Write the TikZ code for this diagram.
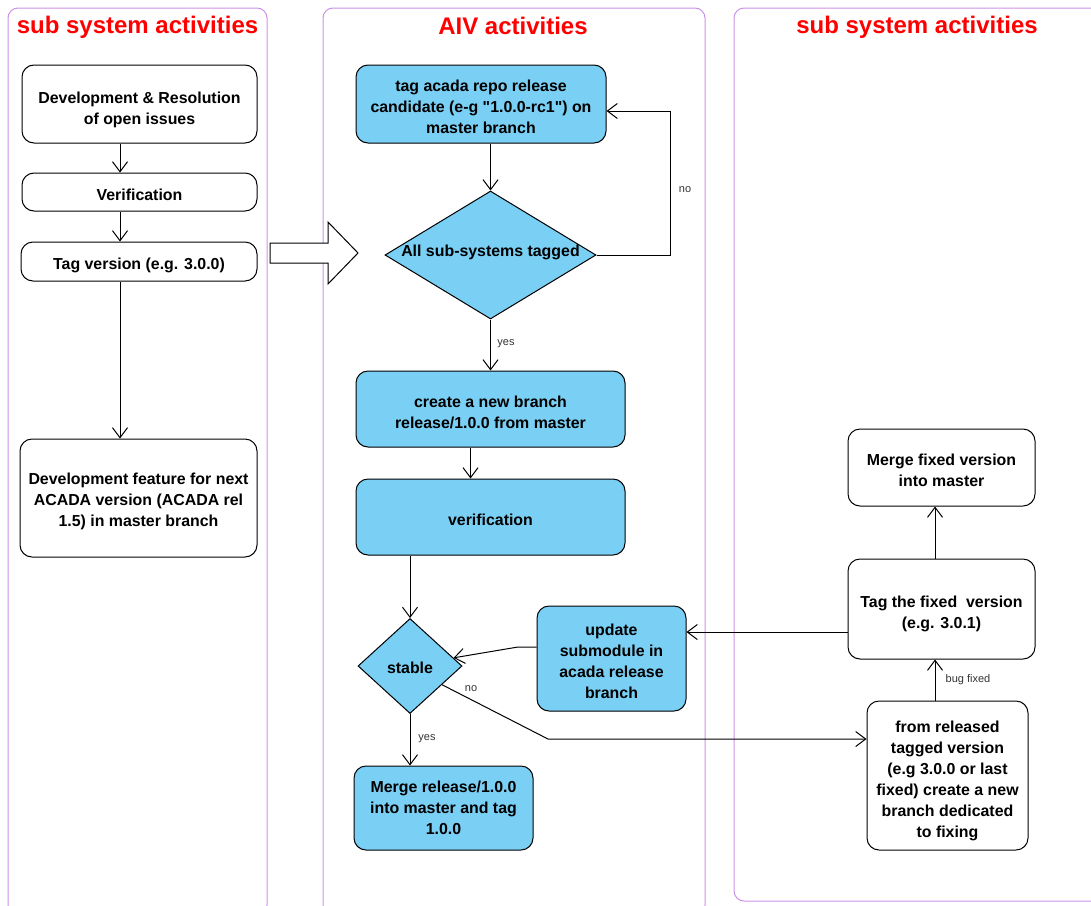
\documentclass[tikz,border=0pt]{standalone}
\usepackage{fontspec}
\setmainfont{Liberation Sans}
\newfontfamily\qfont{Liberation Sans}
\usetikzlibrary{arrows.meta,shapes.geometric,calc}
\definecolor{aivblue}{RGB}{122,207,244}
\definecolor{lanecol}{RGB}{204,144,230}
\definecolor{titlered}{RGB}{255,0,0}
\definecolor{lblgray}{RGB}{51,51,51}
\newcommand\tb[2][4pt]{\raisebox{-#1}[\height][\depth]{\begin{tabular}{@{}c@{}}#2\end{tabular}}}
\newcommand\sq{{\qfont"}}
\tikzset{
 box/.style={draw=black, line width=1pt, rounded corners=12pt, inner sep=0pt, text=black, font=\bfseries\fontsize{15.9}{21}\selectfont},
 wbox/.style={box, fill=white},
 bbox/.style={box, fill=aivblue},
 dia/.style={draw=black, line width=1pt, fill=aivblue, diamond, inner sep=0pt},
 diatext/.style={inner sep=0pt, text=black, font=\bfseries\fontsize{15.9}{21}\selectfont},
 lane/.style={draw=lanecol, line width=1pt, rounded corners=10pt},
 ttl/.style={text=titlered, inner sep=0pt, font=\bfseries\fontsize{24}{26}\selectfont},
 conn/.style={draw=black, line width=1pt, -{Straight Barb[length=10pt,width=15pt]}},
 lbl/.style={text=lblgray, font=\fontsize{11}{13}\selectfont, inner sep=0pt},
 bigarrow/.style={draw=black, line width=1pt, fill=white},
}
\begin{document}
\begin{tikzpicture}[x=1pt,y=-1pt]
\useasboundingbox (0,0) rectangle (1091,905);
\clip (0,0) rectangle (1091,905);
% lanes
\draw[lane] (8,8) rectangle (267,915);
\draw[lane] (323,8) rectangle (705,915);
\draw[lane] (734,8) rectangle (1101,901);
\node[ttl] (t1) at (137.5,27) {sub system activities};
\node[ttl] (t2) at (513,26) {AIV activities};
\node[ttl] (t3) at (917,27) {sub system activities};

% left lane
\node[wbox, minimum width=235, minimum height=78] (dev) at (139.5,104) {\tb[6pt]{Development \& Resolution\\of open issues}};
\node[wbox, minimum width=235, minimum height=38] (verif) at (139.5,192) {\tb{Verification}};
\node[wbox, minimum width=236, minimum height=39] (tagv) at (139,261.5) {\tb{Tag version (e.g. 3.0.0)}};
\node[wbox, minimum width=237, minimum height=118] (devfeat) at (138.5,498) {\tb[3pt]{Development feature for next\\ACADA version (ACADA rel\\1.5) in master branch}};

% AIV lane
\node[bbox, minimum width=250, minimum height=78] (tagrc) at (481,104) {\tb{tag acada repo release\\candidate (e-g \sq1.0.0-rc1\sq) on\\master branch}};
\node[dia, minimum width=211, minimum height=128] (allsub) at (490.5,255) {};
\node[diatext] (allsubtxt) at (490.5,252) {All sub-systems tagged};
\node[bbox, minimum width=269, minimum height=76] (newbr) at (490.5,409) {\tb[5pt]{create a new branch\\release/1.0.0 from master}};
\node[bbox, minimum width=269, minimum height=76] (verif2) at (490.5,517) {\tb{verification}};
\node[dia, minimum width=104, minimum height=95] (stable) at (410,666) {};
\node[diatext] (stabletxt) at (410,668) {stable};
\node[bbox, minimum width=149, minimum height=105] (update) at (611.5,658.5) {\tb{update\\submodule in\\acada release\\branch}};
\node[bbox, minimum width=179, minimum height=84] (merge) at (443.5,808) {\tb[1pt]{Merge release/1.0.0\\into master and tag\\1.0.0}};

% right lane
\node[wbox, minimum width=187, minimum height=77] (mergefix) at (941.5,467.5) {\tb{Merge fixed version\\into master}};
\node[wbox, minimum width=187, minimum height=100] (tagfix) at (941.5,609) {\tb[5pt]{Tag the fixed\ \ version\\(e.g. 3.0.1)}};
\node[wbox, minimum width=161, minimum height=149] (fromrel) at (947.5,775.5) {\tb[5pt]{from released\\tagged version\\(e.g 3.0.0 or last\\fixed) create a new\\branch dedicated\\to fixing}};

% big hollow arrow
\draw[bigarrow] (270,243) -- (328,243) -- (328,222) -- (358,253) -- (328,284) -- (328,263) -- (270,263) -- cycle;

% left connectors
\coordinate (ax) at (120,0);
\draw[conn] (dev.south -| ax) -- (verif.north -| ax);
\draw[conn] (verif.south -| ax) -- (tagv.north -| ax);
\draw[conn] (tagv.south -| ax) -- (devfeat.north -| ax);

% AIV connectors
\draw[conn] (allsub.north |- tagrc.south) -- (allsub.north);
\coordinate (noturn) at (670,255);
\draw[conn] (allsub.east) -- (noturn) |- ([yshift=-7pt]tagrc.east);
\node[lbl] (lno1) at (685,190) {no};
\draw[conn] (allsub.south) -- (newbr.north);
\node[lbl] (lyes1) at (506,344) {yes};
\draw[conn] ([xshift=-20pt]newbr.south) -- ([xshift=-20pt]verif2.north);
\draw[conn] (stable.north |- verif2.south) -- (stable.north);
\coordinate (ub) at (518,647);
\draw[conn] (update.west |- ub) -- (ub) -- ($(stable.east)!0.17!(stable.north)$);
\coordinate (tf) at (848,632);
\draw[conn] (tagfix.west |- tf) -- (update.east |- tf);
\coordinate (sb) at (548,739);
\draw[conn] ($(stable.east)!0.39!(stable.south)$) -- (sb) -- (fromrel.west |- sb);
\node[lbl] (lno2) at (471,689) {no};
\draw[conn] (stable.south) -- (merge.north -| stable.south);
\node[lbl] (lyes2) at (427,739) {yes};

% right connectors
\coordinate (fx) at (935,0);
\draw[conn] (fromrel.north -| fx) -- (tagfix.south -| fx);
\node[lbl] (lbug) at (968,680) {bug fixed};
\draw[conn] (tagfix.north -| fx) -- (mergefix.south -| fx);
\end{tikzpicture}
\end{document}
